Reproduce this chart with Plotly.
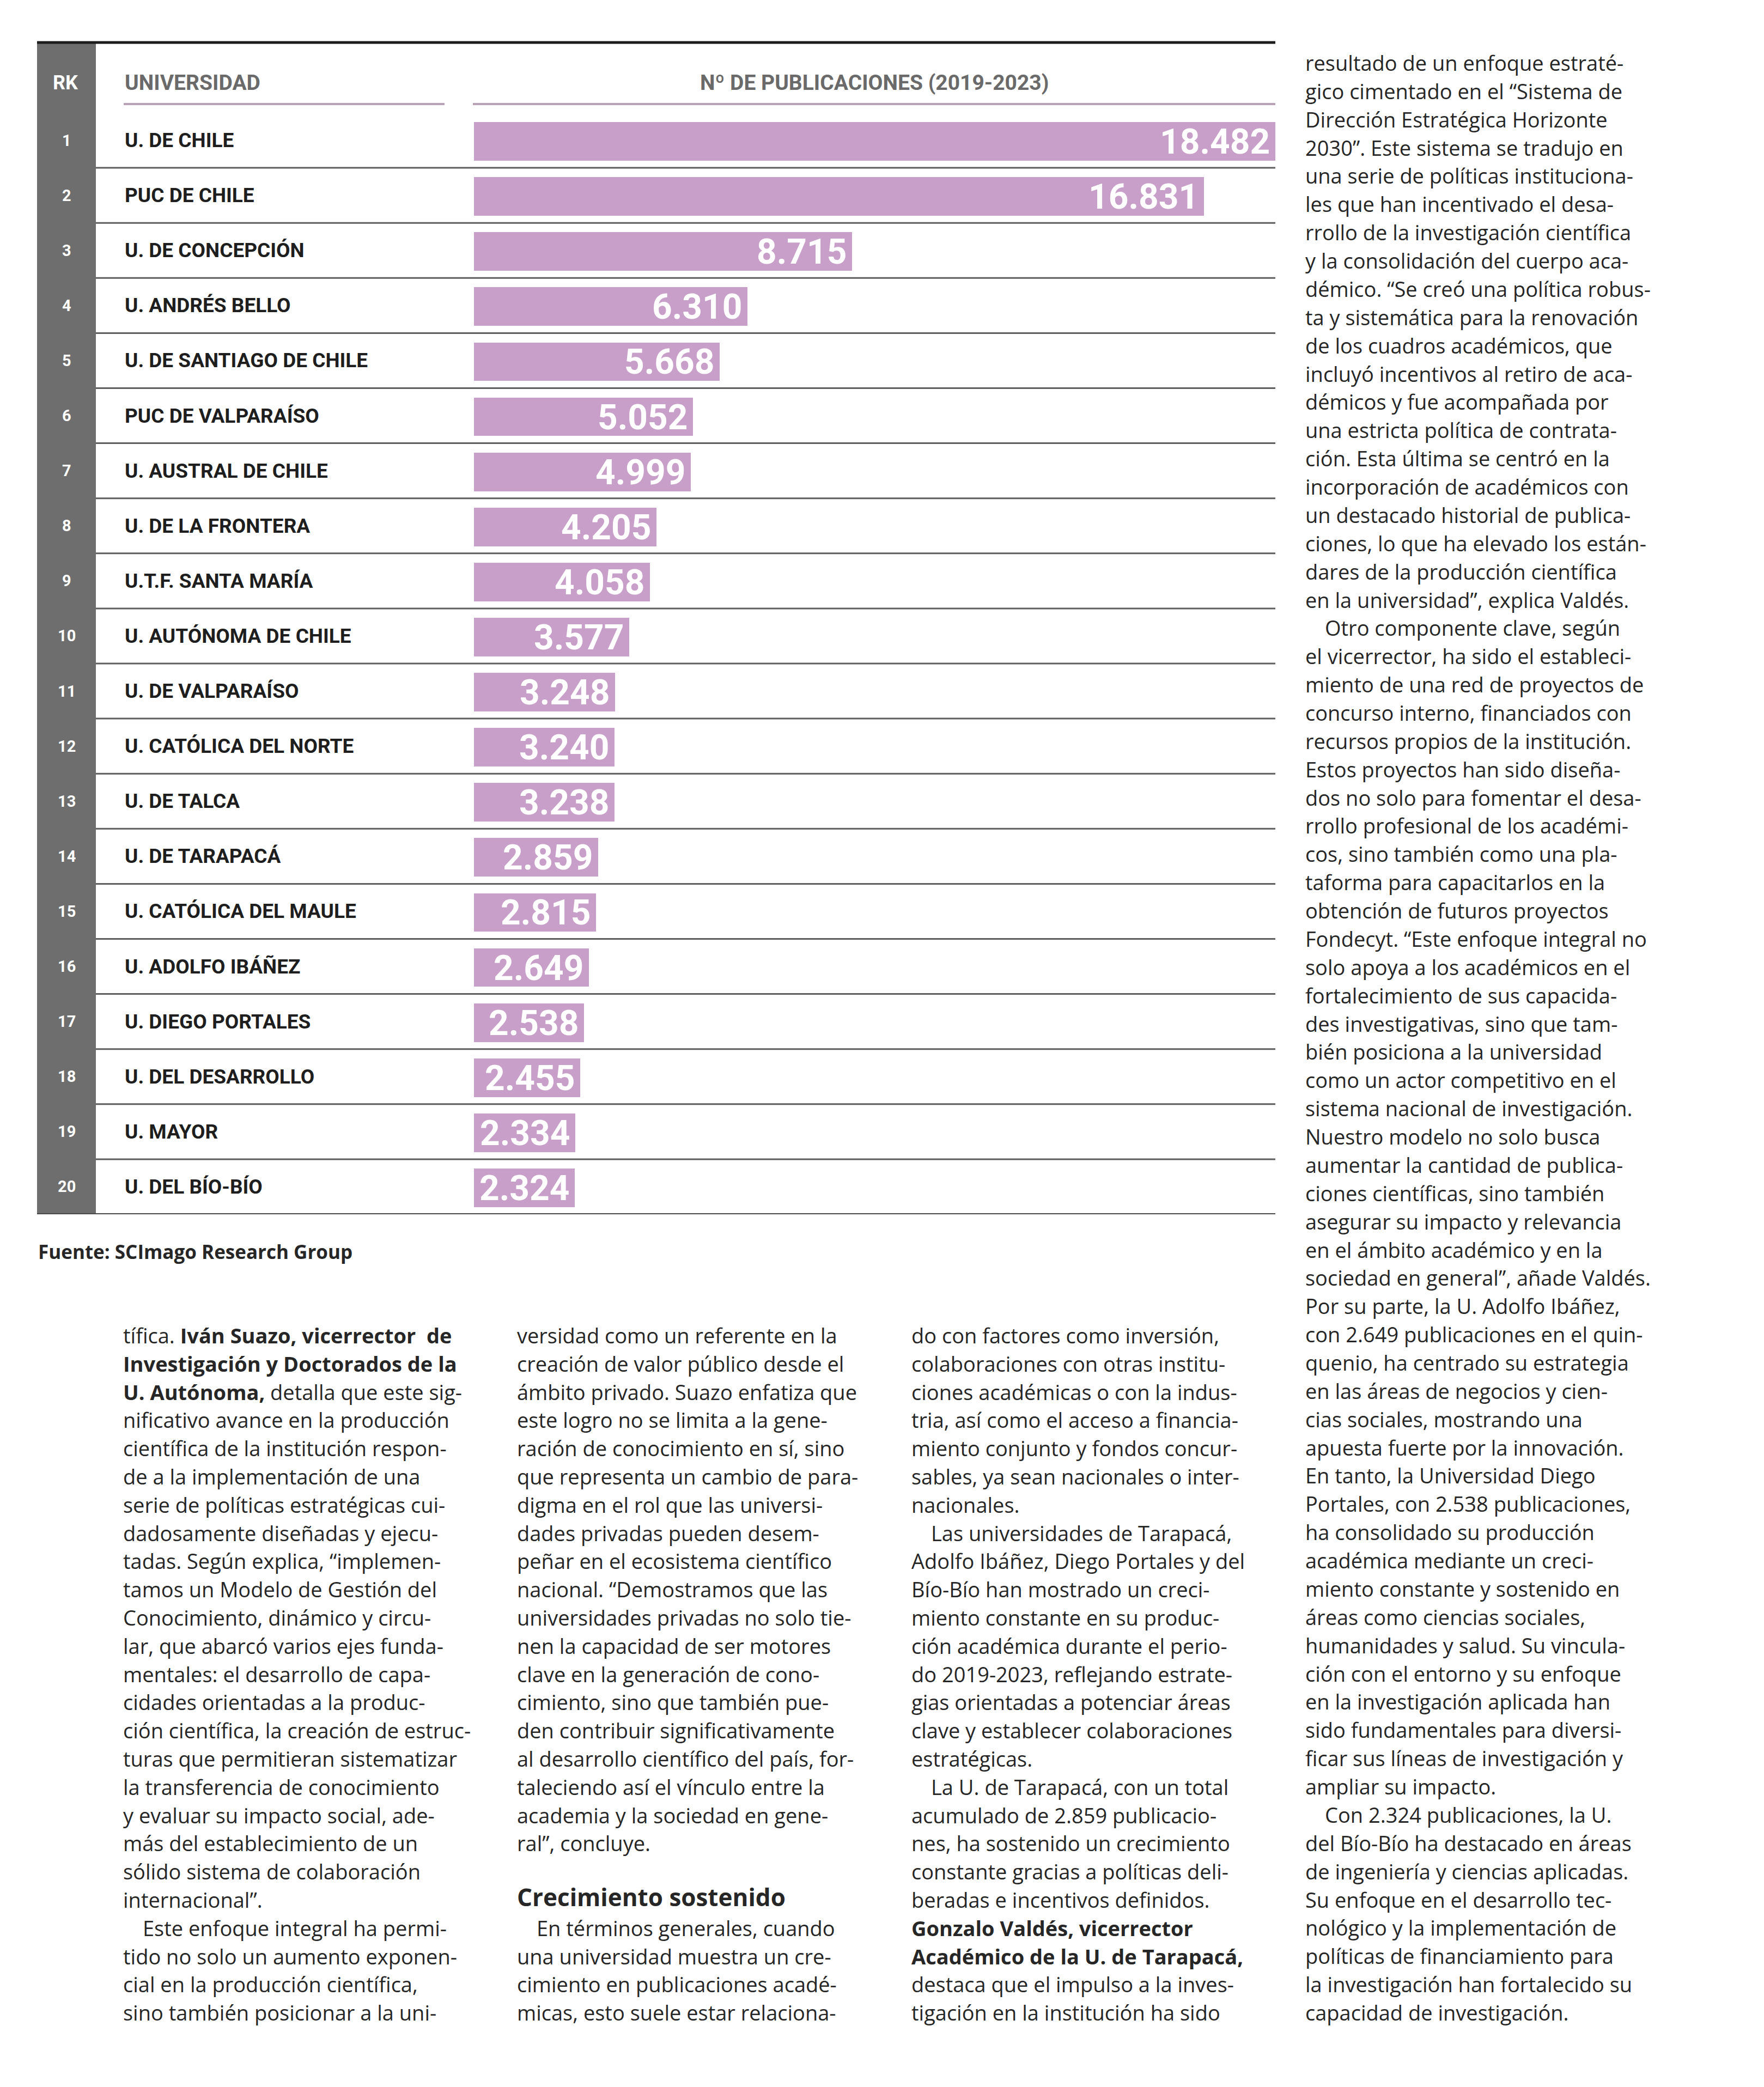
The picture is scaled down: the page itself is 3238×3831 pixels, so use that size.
import plotly.graph_objects as go

W, H = 3238, 3831

# ---------------- data ----------------
ranks = list(range(1, 21))
universidades = [
    "U. DE CHILE", "PUC DE CHILE", "U. DE CONCEPCIÓN", "U. ANDRÉS BELLO",
    "U. DE SANTIAGO DE CHILE", "PUC DE VALPARAÍSO", "U. AUSTRAL DE CHILE",
    "U. DE LA FRONTERA", "U.T.F. SANTA MARÍA", "U. AUTÓNOMA DE CHILE",
    "U. DE VALPARAÍSO", "U. CATÓLICA DEL NORTE", "U. DE TALCA",
    "U. DE TARAPACÁ", "U. CATÓLICA DEL MAULE", "U. ADOLFO IBÁÑEZ",
    "U. DIEGO PORTALES", "U. DEL DESARROLLO", "U. MAYOR", "U. DEL BÍO-BÍO",
]
publicaciones = [18482, 16831, 8715, 6310, 5668, 5052, 4999, 4205, 4058, 3577,
                 3248, 3240, 3238, 2859, 2815, 2649, 2538, 2455, 2334, 2324]

header_rk = "RK"
header_uni = "UNIVERSIDAD"
header_pub = "Nº DE PUBLICACIONES (2019-2023)"
fuente = "Fuente: SCImago Research Group"

# ---------------- article text ----------------
col1 = [
    "tífica. <b>Iván Suazo, vicerrector  de</b>",
    "<b>Investigación y Doctorados de la</b>",
    "<b>U. Autónoma,</b> detalla que este sig-",
    "nificativo avance en la producción",
    "científica de la institución respon-",
    "de a la implementación de una",
    "serie de políticas estratégicas cui-",
    "dadosamente diseñadas y ejecu-",
    "tadas. Según explica, “implemen-",
    "tamos un Modelo de Gestión del",
    "Conocimiento, dinámico y circu-",
    "lar, que abarcó varios ejes funda-",
    "mentales: el desarrollo de capa-",
    "cidades orientadas a la produc-",
    "ción científica, la creación de estruc-",
    "turas que permitieran sistematizar",
    "la transferencia de conocimiento",
    "y evaluar su impacto social, ade-",
    "más del establecimiento de un",
    "sólido sistema de colaboración",
    "internacional”.",
    ">Este enfoque integral ha permi-",
    "tido no solo un aumento exponen-",
    "cial en la producción científica,",
    "sino también posicionar a la uni-",
]
col2 = [
    "versidad como un referente en la",
    "creación de valor público desde el",
    "ámbito privado. Suazo enfatiza que",
    "este logro no se limita a la gene-",
    "ración de conocimiento en sí, sino",
    "que representa un cambio de para-",
    "digma en el rol que las universi-",
    "dades privadas pueden desem-",
    "peñar en el ecosistema científico",
    "nacional. “Demostramos que las",
    "universidades privadas no solo tie-",
    "nen la capacidad de ser motores",
    "clave en la generación de cono-",
    "cimiento, sino que también pue-",
    "den contribuir significativamente",
    "al desarrollo científico del país, for-",
    "taleciendo así el vínculo entre la",
    "academia y la sociedad en gene-",
    "ral”, concluye.",
    "",
    "#Crecimiento sostenido",
    ">En términos generales, cuando",
    "una universidad muestra un cre-",
    "cimiento en publicaciones acadé-",
    "micas, esto suele estar relaciona-",
]
col3 = [
    "do con factores como inversión,",
    "colaboraciones con otras institu-",
    "ciones académicas o con la indus-",
    "tria, así como el acceso a financia-",
    "miento conjunto y fondos concur-",
    "sables, ya sean nacionales o inter-",
    "nacionales.",
    ">Las universidades de Tarapacá,",
    "Adolfo Ibáñez, Diego Portales y del",
    "Bío-Bío han mostrado un creci-",
    "miento constante en su produc-",
    "ción académica durante el perio-",
    "do 2019-2023, reflejando estrate-",
    "gias orientadas a potenciar áreas",
    "clave y establecer colaboraciones",
    "estratégicas.",
    ">La U. de Tarapacá, con un total",
    "acumulado de 2.859 publicacio-",
    "nes, ha sostenido un crecimiento",
    "constante gracias a políticas deli-",
    "beradas e incentivos definidos.",
    "<b>Gonzalo Valdés, vicerrector</b>",
    "<b>Académico de la U. de Tarapacá,</b>",
    "destaca que el impulso a la inves-",
    "tigación en la institución ha sido",
]
col4 = [
    "resultado de un enfoque estraté-",
    "gico cimentado en el “Sistema de",
    "Dirección Estratégica Horizonte",
    "2030”. Este sistema se tradujo en",
    "una serie de políticas instituciona-",
    "les que han incentivado el desa-",
    "rrollo de la investigación científica",
    "y la consolidación del cuerpo aca-",
    "démico. “Se creó una política robus-",
    "ta y sistemática para la renovación",
    "de los cuadros académicos, que",
    "incluyó incentivos al retiro de aca-",
    "démicos y fue acompañada por",
    "una estricta política de contrata-",
    "ción. Esta última se centró en la",
    "incorporación de académicos con",
    "un destacado historial de publica-",
    "ciones, lo que ha elevado los están-",
    "dares de la producción científica",
    "en la universidad”, explica Valdés.",
    ">Otro componente clave, según",
    "el vicerrector, ha sido el estableci-",
    "miento de una red de proyectos de",
    "concurso interno, financiados con",
    "recursos propios de la institución.",
    "Estos proyectos han sido diseña-",
    "dos no solo para fomentar el desa-",
    "rrollo profesional de los académi-",
    "cos, sino también como una pla-",
    "taforma para capacitarlos en la",
    "obtención de futuros proyectos",
    "Fondecyt. “Este enfoque integral no",
    "solo apoya a los académicos en el",
    "fortalecimiento de sus capacida-",
    "des investigativas, sino que tam-",
    "bién posiciona a la universidad",
    "como un actor competitivo en el",
    "sistema nacional de investigación.",
    "Nuestro modelo no solo busca",
    "aumentar la cantidad de publica-",
    "ciones científicas, sino también",
    "asegurar su impacto y relevancia",
    "en el ámbito académico y en la",
    "sociedad en general”, añade Valdés.",
    "Por su parte, la U. Adolfo Ibáñez,",
    "con 2.649 publicaciones en el quin-",
    "quenio, ha centrado su estrategia",
    "en las áreas de negocios y cien-",
    "cias sociales, mostrando una",
    "apuesta fuerte por la innovación.",
    "En tanto, la Universidad Diego",
    "Portales, con 2.538 publicaciones,",
    "ha consolidado su producción",
    "académica mediante un creci-",
    "miento constante y sostenido en",
    "áreas como ciencias sociales,",
    "humanidades y salud. Su vincula-",
    "ción con el entorno y su enfoque",
    "en la investigación aplicada han",
    "sido fundamentales para diversi-",
    "ficar sus líneas de investigación y",
    "ampliar su impacto.",
    ">Con 2.324 publicaciones, la U.",
    "del Bío-Bío ha destacado en áreas",
    "de ingeniería y ciencias aplicadas.",
    "Su enfoque en el desarrollo tec-",
    "nológico y la implementación de",
    "políticas de financiamiento para",
    "la investigación han fortalecido su",
    "capacidad de investigación.",
]

# ---------------- styling ----------------
BAR_COLOR = "#c89fc8"
RK_GRAY = "#6e6e6e"
HEAD_GRAY = "#6a6a6a"
SEP_COLOR = "#5e5e5e"
UNDERLINE = "#b8a3b6"
TEXT = "#262626"
CHART_FONT = "Roboto"
BODY_FONT = "Open Sans"


def px(x):
    return x / W


def py(y):
    return 1 - y / H


fig = go.Figure()

fig.add_trace(go.Bar(
    x=publicaciones,
    y=ranks,
    orientation="h",
    width=0.70,
    offset=-0.33,
    marker=dict(color=BAR_COLOR, line=dict(width=0)),
    hoverinfo="skip",
))

shapes = []
# gray rank column
shapes.append(dict(type="rect", xref="paper", yref="paper",
                   x0=px(68), x1=px(176), y0=py(2229), y1=py(78),
                   fillcolor=RK_GRAY, line=dict(width=0), layer="below"))
# top black rule
shapes.append(dict(type="line", xref="paper", yref="paper",
                   x0=px(68), x1=px(2341), y0=py(78), y1=py(78),
                   line=dict(color="#1c1c1c", width=5)))
# header underlines
shapes.append(dict(type="line", xref="paper", yref="paper",
                   x0=px(227), x1=px(816), y0=py(191), y1=py(191),
                   line=dict(color=UNDERLINE, width=4)))
shapes.append(dict(type="line", xref="paper", yref="paper",
                   x0=px(868), x1=px(2341), y0=py(191), y1=py(191),
                   line=dict(color=UNDERLINE, width=4)))
# row separators
for r in ranks:
    last = r == ranks[-1]
    shapes.append(dict(type="line", xref="paper", yref="y",
                       x0=px(68 if last else 176), x1=px(2341),
                       y0=r + 0.5, y1=r + 0.5,
                       line=dict(color="#4a4a4a" if last else SEP_COLOR,
                                 width=4 if last else 3)))

annotations = []
# headers
annotations.append(dict(xref="paper", yref="paper", x=px(120), y=py(152),
                        text="<b>%s</b>" % header_rk, showarrow=False,
                        xanchor="center", yanchor="middle",
                        font=dict(family=CHART_FONT, size=36, color="white")))
annotations.append(dict(xref="paper", yref="paper", x=px(227), y=py(152),
                        text="<b>%s</b>" % header_uni, showarrow=False,
                        xanchor="left", yanchor="middle",
                        font=dict(family=CHART_FONT, size=39, color=HEAD_GRAY)))
annotations.append(dict(xref="paper", yref="paper", x=px(1605), y=py(152),
                        text="<b>%s</b>" % header_pub, showarrow=False,
                        xanchor="center", yanchor="middle",
                        font=dict(family=CHART_FONT, size=39, color=HEAD_GRAY)))

for r, name, v in zip(ranks, universidades, publicaciones):
    annotations.append(dict(xref="paper", yref="y", x=px(122), y=r,
                            text="<b>%d</b>" % r, showarrow=False,
                            xanchor="center", yanchor="middle",
                            font=dict(family=CHART_FONT, size=29, color="white")))
    annotations.append(dict(xref="paper", yref="y", x=px(227), y=r,
                            text="<b>%s</b>" % name, showarrow=False,
                            xanchor="left", yanchor="middle",
                            font=dict(family=CHART_FONT, size=37, color="#1e1e1e")))
    label = "{:,}".format(v).replace(",", ".")
    annotations.append(dict(xref="x", yref="y", x=v, y=r,
                            text="<b>%s</b>" % label, showarrow=False,
                            xanchor="right", yanchor="middle",
                            xshift=-8, yshift=-3,
                            font=dict(family=CHART_FONT, size=64, color="white")))

annotations.append(dict(xref="paper", yref="paper", x=px(68), y=py(2297),
                        text="<b>%s</b>" % fuente, showarrow=False,
                        xanchor="left", yanchor="middle",
                        font=dict(family=BODY_FONT, size=35, color=TEXT)))


def add_column(lines, x_left, y_first, step=51.8):
    for k, line in enumerate(lines):
        if not line:
            continue
        y = y_first + k * step
        shift = 0
        size = 38
        if line.startswith(">"):
            line = line[1:]
            shift = 36
        if line.startswith("#"):
            line = "<b>%s</b>" % line[1:]
            size = 44
            y -= 5
        annotations.append(dict(xref="paper", yref="paper", x=px(x_left), y=py(y),
                                text=line, showarrow=False, xanchor="left",
                                yanchor="middle", xshift=shift, align="left",
                                borderpad=0,
                                font=dict(family=BODY_FONT, size=size, color=TEXT)))


add_column(col1, 225, 2451)
add_column(col2, 948, 2451)
add_column(col3, 1672, 2451)
add_column(col4, 2395, 115, step=(3694 - 115) / 69)

fig.update_layout(
    width=W, height=H,
    margin=dict(l=0, r=0, t=0, b=0),
    paper_bgcolor="white", plot_bgcolor="rgba(0,0,0,0)",
    showlegend=False,
    xaxis=dict(domain=[px(870), px(2341)], range=[0, max(publicaciones)],
               visible=False, fixedrange=True),
    yaxis=dict(domain=[py(2229), py(207)], range=[20.5, 0.5],
               visible=False, fixedrange=True),
    shapes=shapes,
    annotations=annotations,
    bargap=0,
)

fig.write_html("out.html", config={"displayModeBar": False},
               post_script="document.body.style.margin='0';")
